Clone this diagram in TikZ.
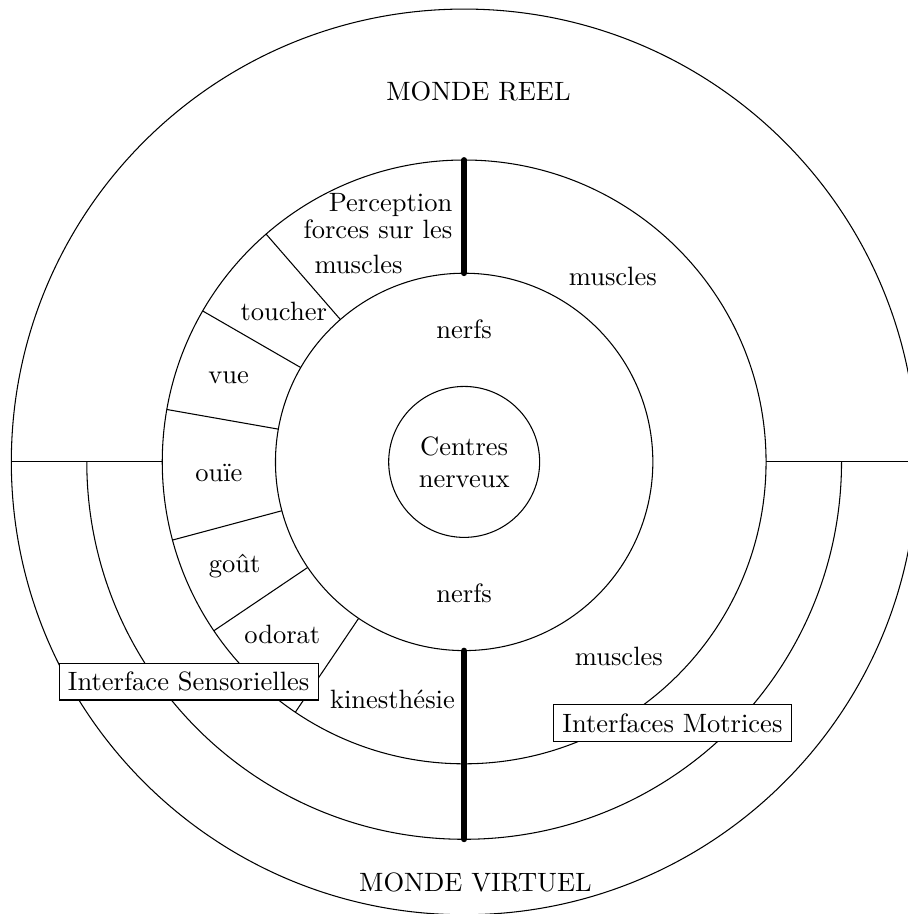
\documentclass[tikz,border=0pt]{standalone}

\begin{document}
\begin{tikzpicture}[
    iface/.style={rectangle, draw, fill=white},
    core/.style={circle, draw, minimum size=2cm, inner sep=0pt, align=center},
    axis/.style={line width=2.2pt, line cap=round}]

\useasboundingbox (-6.15,-5.99) rectangle (5.87,6.12);

% Cercles
\draw (0,0) circle (6);
\draw (0,0) circle (4);
\draw (0,0) circle (2.5);
\draw (180:5) arc (180:360:5);
\node [core] (centres) at (0,0) {Centres\\nerveux};

% Separations
\draw (180:6) -- (180:4);
\draw (0:4) -- (0:6);
\foreach \a in {131,150,170,195,214,236}
  \draw (\a:2.5) -- (\a:4);
\draw [axis] (90:4) -- (90:2.5);
\draw [axis] (270:2.5) -- (270:5);

% Textes
\node (reel) at (0.19,4.91) {MONDE REEL};
\node (virtuel) at (0.15,-5.57) {MONDE VIRTUEL};
\node (nerfsH) at (0,1.76) {nerfs};
\node (nerfsB) at (0,-1.74) {nerfs};
\node (musclesH) at (1.97,2.46) {muscles};
\node (musclesB) at (2.05,-2.58) {muscles};
\node [anchor=east, inner sep=0pt, align=right] (perception) at (-0.15,3.26) {Perception\\[-2pt]forces sur les};
\node (musclesP) at (-1.40,2.62) {muscles};
\node (toucher) at (-2.39,2.0) {toucher};
\node (vue) at (-3.12,1.12) {vue};
\node (ouie) at (-3.25,-0.15) {ouïe};
\node (gout) at (-3.04,-1.38) {goût};
\node (odorat) at (-2.41,-2.28) {odorat};
\node (kines) at (-0.95,-3.14) {kinesthésie};

% Interfaces
\node [iface] (sens) at (-3.65,-2.91) {Interface Sensorielles};
\node [iface] (motr) at (2.76,-3.46) {Interfaces Motrices};

\end{tikzpicture}
\end{document}
